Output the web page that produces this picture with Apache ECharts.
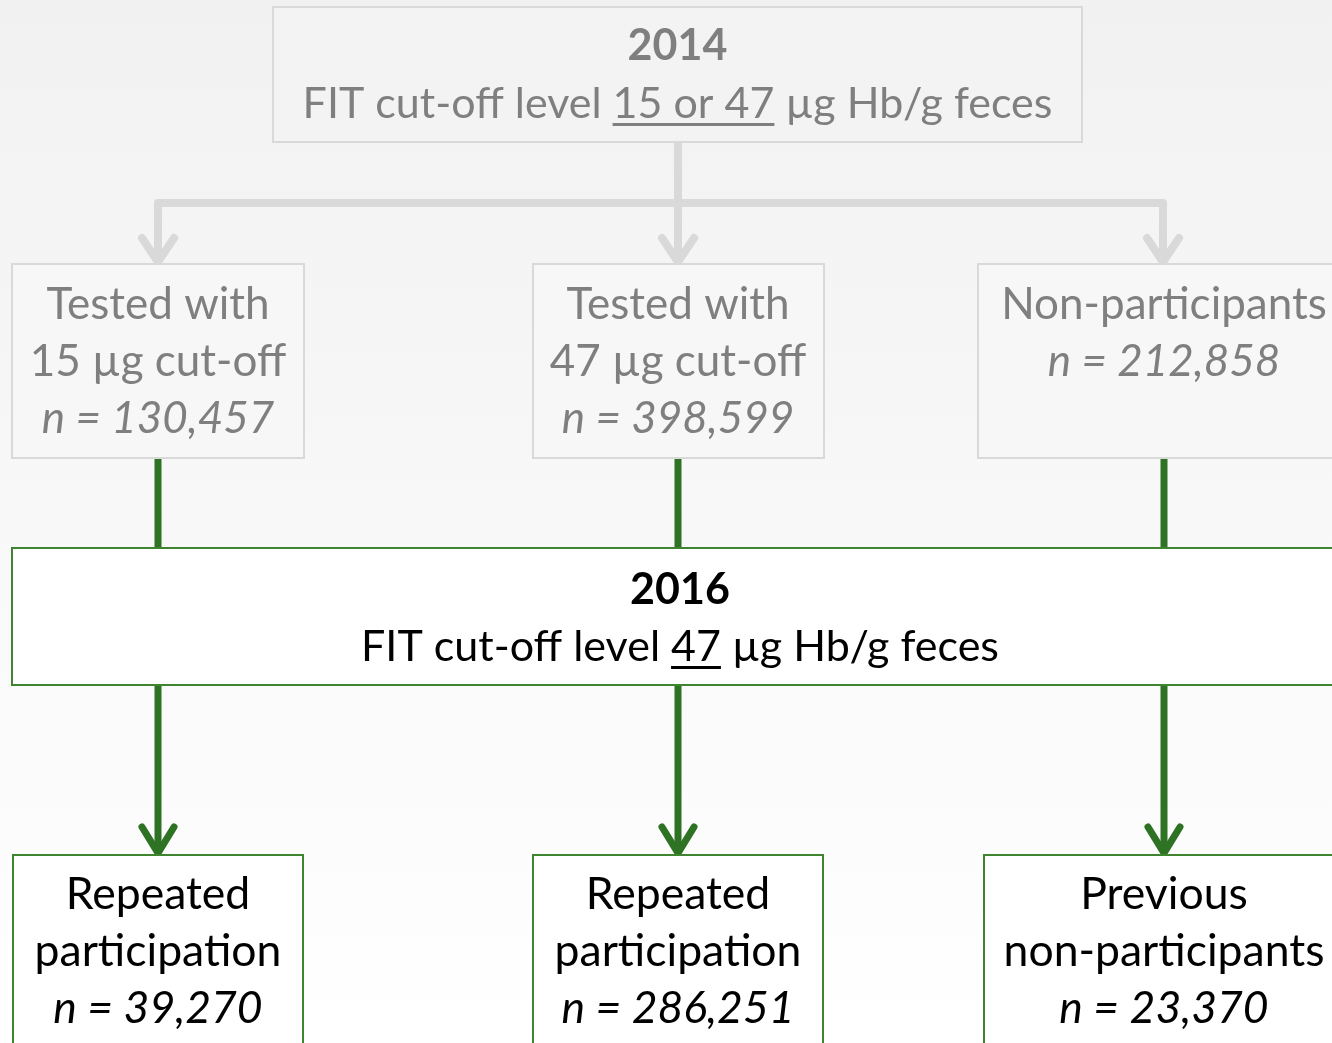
<!DOCTYPE html>
<html lang="en">
  <head>
    <meta charset="UTF-8" />
    <title>FIT cut-off flow 2014 - 2016</title>
    <style>
      * {
        margin: 0;
        padding: 0;
      }
      #main {
        width: 1332px;
        height: 1043px;
      }
    </style>
  </head>
  <body>
    <div id="main"></div>
    <script src="https://cdn.jsdelivr.net/npm/echarts@6/dist/echarts.min.js"></script>
    <script>
      // ---- data ----
      var years = ["2014", "2016"];
      var cutoffs2014 = "15 or 47";
      var cutoffs2016 = "47";
      var groups2014 = ["Tested with|15 µg cut-off", "Tested with|47 µg cut-off", "Non-participants"];
      var counts2014 = [130457, 398599, 212858];
      var groups2016 = ["Repeated|participation", "Repeated|participation", "Previous|non-participants"];
      var counts2016 = [39270, 286251, 23370];

      // ---- layout (axis units = pixels of the picture) ----
      var colX = [158, 678, 1164];
      var boxLeft = [12, 533, 978];
      var boxRight = [304, 824, 1345];
      var bottomLeft = [13, 533, 984];
      var bottomRight = [303, 823, 1345];
      var topBox = [273, 7, 1082, 142];
      var midRow = [264, 458];
      var box2016 = [12, 548, 1345, 685];
      var bottomRow = [855, 1060];
      var splitY = 203;

      var FONT = "Lato, 'Open Sans', sans-serif";
      var GRAY_TXT = "#7f7f7f";
      var GRAY_LINE = "#d9d9d9";
      var GREEN = "#2e7223";
      var GREEN_BORDER = "#3f8530";

      var measureCtx = document.createElement("canvas").getContext("2d");
      function textWidth(str, font) {
        measureCtx.font = font;
        return measureCtx.measureText(str).width;
      }

      function fmt(n) {
        return n.toLocaleString("en-US");
      }

      // each box: rect + lines of text
      var boxes = [];
      boxes.push({
        rect: topBox,
        fill: "#f3f3f3",
        stroke: GRAY_LINE,
        color: GRAY_TXT,
        size: 43,
        lines: [
          { text: years[0], bold: true, y: 46 },
          { pre: "FIT cut-off level ", ul: cutoffs2014, post: " µg Hb/g feces", y: 104 },
        ],
      });
      for (var i = 0; i < 3; i++) {
        var parts = groups2014[i].split("|");
        var ls = parts.map(function (p, k) {
          return { text: p, y: 305 + k * 57 };
        });
        ls.push({ text: "n = " + fmt(counts2014[i]), italic: true, y: 305 + parts.length * 57 });
        boxes.push({
          rect: [boxLeft[i], midRow[0], boxRight[i], midRow[1]],
          fill: "#f7f7f7",
          stroke: GRAY_LINE,
          color: GRAY_TXT,
          size: 44,
          cx: colX[i],
          lines: ls,
        });
      }
      boxes.push({
        rect: box2016,
        fill: "#ffffff",
        stroke: GREEN_BORDER,
        color: "#000000",
        size: 43,
        cx: 680,
        lines: [
          { text: years[1], bold: true, y: 590 },
          { pre: "FIT cut-off level ", ul: cutoffs2016, post: " µg Hb/g feces", y: 647 },
        ],
      });
      for (var j = 0; j < 3; j++) {
        var bp = groups2016[j].split("|");
        var bl = bp.map(function (p, k) {
          return { text: p, y: 895 + k * 57 };
        });
        bl.push({ text: "n = " + fmt(counts2016[j]), italic: true, y: 895 + bp.length * 57 });
        boxes.push({
          rect: [bottomLeft[j], bottomRow[0], bottomRight[j], bottomRow[1]],
          fill: "#ffffff",
          stroke: GREEN_BORDER,
          color: "#000000",
          size: 44.5,
          cx: colX[j],
          lines: bl,
        });
      }

      // connectors: gray (2014 split) and green (into / out of 2016)
      var grayPaths = [
        [[678, 142], [678, 260]],
        [[158, 260], [158, splitY], [1163, splitY], [1163, 260]],
      ];
      var grayHeads = [[158, 262], [678, 262], [1163, 262]];
      var greenPaths = [];
      var greenHeads = [];
      for (var c = 0; c < 3; c++) {
        greenPaths.push([[colX[c], midRow[1]], [colX[c], box2016[1]]]);
        greenPaths.push([[colX[c], box2016[3]], [colX[c], bottomRow[0] - 4]]);
        greenHeads.push([colX[c], bottomRow[0] - 2]);
      }

      function boxItem(params, api) {
        var b = boxes[params.dataIndex];
        var p0 = api.coord([b.rect[0], b.rect[1]]);
        var p1 = api.coord([b.rect[2], b.rect[3]]);
        var cx = api.coord([b.cx != null ? b.cx : (b.rect[0] + b.rect[2]) / 2, 0])[0];
        var children = [
          {
            type: "rect",
            shape: { x: p0[0], y: p0[1], width: p1[0] - p0[0], height: p1[1] - p0[1] },
            style: { fill: b.fill, stroke: b.stroke, lineWidth: 2 },
          },
        ];
        b.lines.forEach(function (ln) {
          var font =
            (ln.italic ? "italic " : "") + (ln.bold ? "bold " : "") + b.size + "px " + FONT;
          var full = ln.text != null ? ln.text : ln.pre + ln.ul + ln.post;
          var y = api.coord([0, ln.y])[1];
          children.push({
            type: "text",
            style: {
              text: full,
              x: cx,
              y: y,
              align: "center",
              verticalAlign: "middle",
              font: font,
              fill: b.color,
            },
          });
          if (ln.ul) {
            var w = textWidth(full, font);
            var x0 = cx - w / 2 + textWidth(ln.pre, font);
            var uw = textWidth(ln.ul, font);
            children.push({
              type: "rect",
              shape: { x: x0, y: y + 19, width: uw, height: 3 },
              style: { fill: b.color },
            });
          }
        });
        return { type: "group", children: children };
      }

      function pathItem(paths, heads, color, width, headW, headH) {
        return function (params, api) {
          if (params.dataIndex > 0) return null;
          var children = [];
          paths.forEach(function (pts) {
            children.push({
              type: "polyline",
              shape: { points: pts.map(function (p) { return api.coord(p); }) },
              style: { stroke: color, lineWidth: width, fill: null, lineJoin: "round" },
            });
          });
          heads.forEach(function (h) {
            var t = api.coord(h);
            children.push({
              type: "polyline",
              shape: { points: [[t[0] - headW, t[1] - headH], t, [t[0] + headW, t[1] - headH]] },
              style: { stroke: color, lineWidth: width, fill: null, lineCap: "round", lineJoin: "miter" },
            });
          });
          return { type: "group", children: children };
        };
      }

      var chart = echarts.init(document.getElementById("main"));
      chart.setOption({
        animation: false,
        backgroundColor: new echarts.graphic.LinearGradient(0, 0, 0, 1, [
          { offset: 0, color: "#f1f1f1" },
          { offset: 1, color: "#ffffff" },
        ]),
        grid: { left: 0, right: 0, top: 0, bottom: 0 },
        xAxis: { type: "value", min: 0, max: 1332, show: false },
        yAxis: { type: "value", min: 0, max: 1043, inverse: true, show: false },
        series: [
          {
            type: "custom",
            renderItem: pathItem(grayPaths, grayHeads, GRAY_LINE, 8, 16, 24),
            data: [0],
            silent: true,
            z: 1,
          },
          {
            type: "custom",
            renderItem: pathItem(greenPaths, greenHeads, GREEN, 7, 16, 26),
            data: [0],
            silent: true,
            z: 1,
          },
          {
            type: "custom",
            renderItem: boxItem,
            data: boxes.map(function (b, k) { return k; }),
            silent: true,
            z: 2,
          },
        ],
      });
    </script>
  </body>
</html>
